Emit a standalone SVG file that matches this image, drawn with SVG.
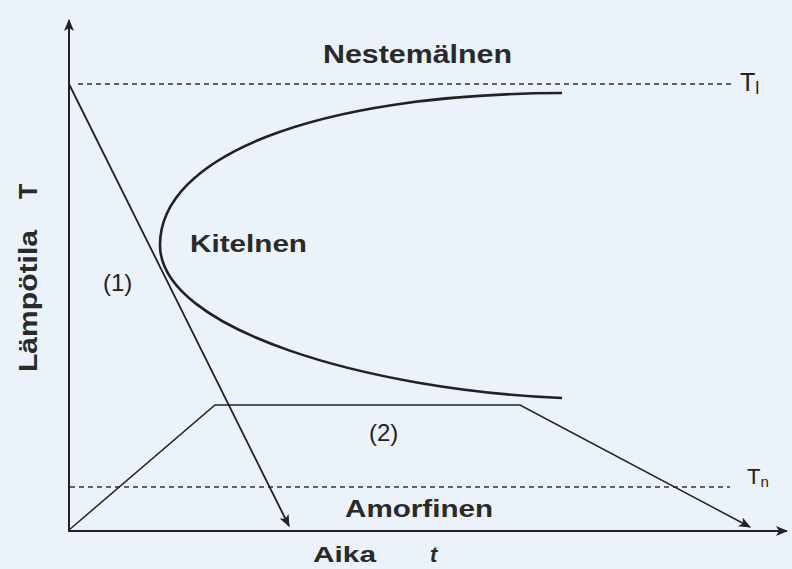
<svg xmlns="http://www.w3.org/2000/svg" width="792" height="569" viewBox="0 0 792 569">
<style>
.lbl{font-family:"Liberation Sans",Arial,sans-serif;font-weight:bold;fill:#2a2a2a;}
.reg{font-family:"Liberation Sans",Arial,sans-serif;fill:#222;}
.ln{fill:none;stroke:#222;}
.dash{fill:none;stroke:#333;stroke-width:1.6;stroke-dasharray:5,4;}
</style>
<defs>
<marker id="ah" viewBox="0 0 12 10" refX="11" refY="5" markerWidth="12" markerHeight="10" markerUnits="userSpaceOnUse" orient="auto">
<path d="M0,0 L12,5 L0,10 L3,5 Z" fill="#222"/>
</marker>
</defs>
<rect x="0" y="0" width="792" height="569" fill="#ebf2f9"/>
<g id="connectors">
<line id="y-axis" class="ln" x1="69" y1="531" x2="69" y2="20" stroke-width="2" marker-end="url(#ah)"/>
<line id="x-axis" class="ln" x1="68" y1="531" x2="787" y2="531" stroke-width="2" marker-end="url(#ah)"/>
<line id="t-top" class="dash" x1="78" y1="84" x2="735" y2="84"/>
<line id="t-bottom" class="dash" x1="70" y1="487" x2="730" y2="487"/>
<line id="path1" class="ln" x1="69" y1="84" x2="289" y2="526" stroke-width="1.8" marker-end="url(#ah)"/>
<polyline id="path2" class="ln" points="69,530 215,405 520,405 750,527" stroke-width="1.5" marker-end="url(#ah)"/>
<path id="curve" class="ln" d="M562,93 C310,94 160,158 160,245 C160,330 370,390 562,398" stroke-width="2.6"/>
</g>
<g id="labels">
<text id="nestemainen" class="lbl" x="323" y="63" font-size="25" textLength="189" lengthAdjust="spacingAndGlyphs">Nestemälnen</text>
<text id="kiteinen" class="lbl" x="190" y="252" font-size="24" textLength="117" lengthAdjust="spacingAndGlyphs">Kitelnen</text>
<text id="amorfinen" class="lbl" x="345" y="517" font-size="24" textLength="148" lengthAdjust="spacingAndGlyphs">Amorfinen</text>
<text id="l1" class="reg" x="103" y="291" font-size="24">(1)</text>
<text id="l2" class="reg" x="369" y="441" font-size="24">(2)</text>
<text id="tl" class="reg" x="740" y="91" font-size="25">T<tspan font-size="18" dy="3">l</tspan></text>
<text id="tn" class="reg" x="747" y="484" font-size="22">T<tspan font-size="15" dy="3">n</tspan></text>
<text id="xlabel" class="lbl" x="313" y="562" font-size="22" textLength="63" lengthAdjust="spacingAndGlyphs">Aika</text>
<text id="xlabel-t" class="lbl" x="430" y="562" font-size="22" font-style="italic">t</text>
<text id="ylabel" class="lbl" transform="translate(37,372) rotate(-90)" font-size="25" textLength="142" lengthAdjust="spacingAndGlyphs">Lämpötila</text>
<text id="ylabel-t" class="lbl" transform="translate(37,199) rotate(-90)" font-size="25">T</text>
</g>
</svg>
